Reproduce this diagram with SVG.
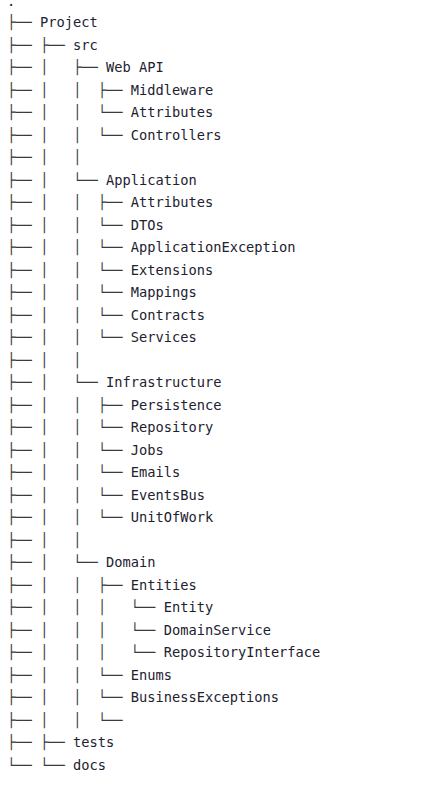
<svg xmlns="http://www.w3.org/2000/svg" width="442" height="811" viewBox="0 0 442 811">
  <style>
    text { font-family: "DejaVu Sans Mono", "Liberation Mono", monospace; font-size: 13.7px; fill: #1d2230; white-space: pre; }
    .tree text { fill: #3a3a3a; }
  </style>
  <rect width="442" height="811" fill="#ffffff"/>

  <!-- tree branch glyphs, one string per row; columns are 8.25px wide from x=7 -->
  <g id="connectors" class="tree" xml:space="preserve">
    <text x="7" y="27">├──</text>
    <text x="7" y="49.5">├── ├──</text>
    <text x="7" y="72">├── │   ├──</text>
    <text x="7" y="94.5">├── │   │  ├──</text>
    <text x="7" y="117">├── │   │  └──</text>
    <text x="7" y="139.5">├── │   │  └──</text>
    <text x="7" y="162">├── │   │</text>
    <text x="7" y="184.5">├── │   └──</text>
    <text x="7" y="207">├── │   │  ├──</text>
    <text x="7" y="229.5">├── │   │  └──</text>
    <text x="7" y="252">├── │   │  └──</text>
    <text x="7" y="274.5">├── │   │  └──</text>
    <text x="7" y="297">├── │   │  └──</text>
    <text x="7" y="319.5">├── │   │  └──</text>
    <text x="7" y="342">├── │   │  └──</text>
    <text x="7" y="364.5">├── │   │</text>
    <text x="7" y="387">├── │   └──</text>
    <text x="7" y="409.5">├── │   │  ├──</text>
    <text x="7" y="432">├── │   │  └──</text>
    <text x="7" y="454.5">├── │   │  └──</text>
    <text x="7" y="477">├── │   │  └──</text>
    <text x="7" y="499.5">├── │   │  └──</text>
    <text x="7" y="522">├── │   │  └──</text>
    <text x="7" y="544.5">├── │   │</text>
    <text x="7" y="567">├── │   └──</text>
    <text x="7" y="589.5">├── │   │  ├──</text>
    <text x="7" y="612">├── │   │  │   └──</text>
    <text x="7" y="634.5">├── │   │  │   └──</text>
    <text x="7" y="657">├── │   │  │   └──</text>
    <text x="7" y="679.5">├── │   │  └──</text>
    <text x="7" y="702">├── │   │  └──</text>
    <text x="7" y="724.5">├── │   │  └──</text>
    <text x="7" y="747">├── ├──</text>
    <text x="7" y="769.5">└── └──</text>
  </g>

  <!-- folder names -->
  <g id="root"><text x="7" y="5.5">.</text></g>
  <g id="project"><text x="40" y="27">Project</text></g>
  <g id="src"><text x="73" y="49.5">src</text></g>
  <g id="web-api"><text x="106" y="72">Web API</text></g>
  <g id="web-middleware"><text x="130.75" y="94.5">Middleware</text></g>
  <g id="web-attributes"><text x="130.75" y="117">Attributes</text></g>
  <g id="web-controllers"><text x="130.75" y="139.5">Controllers</text></g>
  <g id="application"><text x="106" y="184.5">Application</text></g>
  <g id="app-attributes"><text x="130.75" y="207">Attributes</text></g>
  <g id="app-dtos"><text x="130.75" y="229.5">DTOs</text></g>
  <g id="app-exception"><text x="130.75" y="252">ApplicationException</text></g>
  <g id="app-extensions"><text x="130.75" y="274.5">Extensions</text></g>
  <g id="app-mappings"><text x="130.75" y="297">Mappings</text></g>
  <g id="app-contracts"><text x="130.75" y="319.5">Contracts</text></g>
  <g id="app-services"><text x="130.75" y="342">Services</text></g>
  <g id="infrastructure"><text x="106" y="387">Infrastructure</text></g>
  <g id="infra-persistence"><text x="130.75" y="409.5">Persistence</text></g>
  <g id="infra-repository"><text x="130.75" y="432">Repository</text></g>
  <g id="infra-jobs"><text x="130.75" y="454.5">Jobs</text></g>
  <g id="infra-emails"><text x="130.75" y="477">Emails</text></g>
  <g id="infra-eventsbus"><text x="130.75" y="499.5">EventsBus</text></g>
  <g id="infra-unitofwork"><text x="130.75" y="522">UnitOfWork</text></g>
  <g id="domain"><text x="106" y="567">Domain</text></g>
  <g id="domain-entities"><text x="130.75" y="589.5">Entities</text></g>
  <g id="entities-entity"><text x="163.75" y="612">Entity</text></g>
  <g id="entities-domainservice"><text x="163.75" y="634.5">DomainService</text></g>
  <g id="entities-repositoryinterface"><text x="163.75" y="657">RepositoryInterface</text></g>
  <g id="domain-enums"><text x="130.75" y="679.5">Enums</text></g>
  <g id="domain-businessexceptions"><text x="130.75" y="702">BusinessExceptions</text></g>
  <g id="tests"><text x="73" y="747">tests</text></g>
  <g id="docs"><text x="73" y="769.5">docs</text></g>
</svg>
